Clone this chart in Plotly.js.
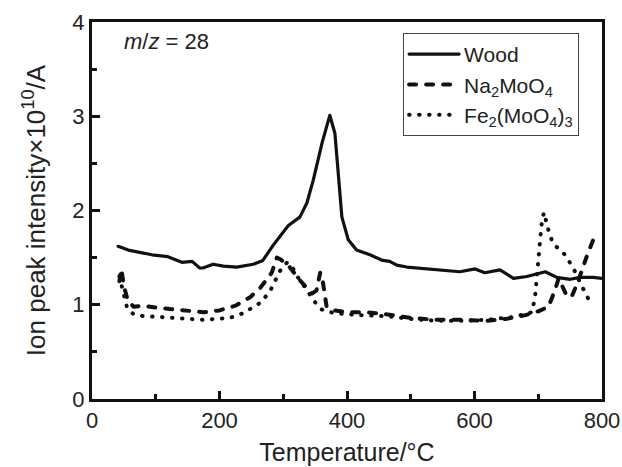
<!DOCTYPE html>
<html>
<head>
<meta charset="utf-8">
<script src="https://cdn.plot.ly/plotly-3.0.1.min.js"></script>
<style>
html,body{margin:0;padding:0;background:#fff;}
#chart{width:622px;height:467px;}
path.js-line{stroke-linecap:round;stroke-linejoin:round;}
</style>
</head>
<body>
<div id="chart"></div>
<script>
// Wood
const woodT = [41,57,94,119,141,157,169,174,190,206,227,253,268,284,308,326,337,347,361,373,381,386,392,402,415,436,456,467,478,494,511,530,555,577,601,616,640,661,682,703,711,729,750,766,786,800];
const woodV = [1.62,1.58,1.53,1.51,1.45,1.46,1.39,1.39,1.43,1.41,1.40,1.43,1.47,1.63,1.84,1.93,2.08,2.32,2.72,3.01,2.82,2.40,1.93,1.69,1.58,1.53,1.47,1.46,1.42,1.40,1.39,1.38,1.37,1.35,1.38,1.34,1.37,1.28,1.30,1.34,1.35,1.29,1.27,1.29,1.29,1.28];
// Na2MoO4
const naT = [43,46,50,56,65,80,100,125,150,175,200,225,248,264,282,290,296,310,326,345,352,358,362,368,380,400,430,460,500,540,580,620,650,680,700,716,726,732,743,752,762,778,790];
const naV = [1.25,1.38,1.20,1.05,0.98,0.99,0.97,0.95,0.93,0.92,0.94,0.99,1.08,1.18,1.34,1.50,1.48,1.40,1.26,1.12,1.15,1.34,1.25,0.98,0.94,0.92,0.92,0.90,0.86,0.84,0.84,0.83,0.85,0.89,0.93,0.98,1.15,1.28,1.12,1.08,1.24,1.55,1.75];
// Fe2(MoO4)3
const feT = [43,48,55,65,80,107,138,174,216,237,264,279,295,306,314,322,337,347,360,380,420,460,500,540,580,620,660,690,695,700,703,706,709,716,723,742,755,766,778,790];
const feV = [1.30,1.15,0.97,0.90,0.88,0.87,0.86,0.84,0.86,0.91,1.02,1.14,1.36,1.45,1.40,1.30,1.16,1.05,0.95,0.91,0.89,0.88,0.85,0.83,0.83,0.84,0.87,0.92,1.08,1.40,1.69,1.90,1.98,1.79,1.65,1.53,1.39,1.23,1.07,1.04];

const names = ['Wood', 'Na<sub>2</sub>MoO<sub>4</sub>', 'Fe<sub>2</sub>(MoO<sub>4</sub>)<sub>3</sub>'];
const xTicks = [0,200,400,600,800];
const yTicks = [0,1,2,3,4];

const traces = [
  {x: woodT, y: woodV, name: names[0], mode: 'lines', line: {color: '#111', width: 3.2}},
  {x: naT, y: naV, name: names[1], mode: 'lines', line: {color: '#111', width: 4, dash: '7px,10px'}},
  {x: feT, y: feV, name: names[2], mode: 'lines', line: {color: '#111', width: 4, dash: '0.5px,9.5px'}}
];

const fam = 'Liberation Sans, Arial, sans-serif';
const axisCommon = {
  showline: true, linewidth: 3, linecolor: '#111', mirror: true,
  ticks: 'inside', ticklen: 8, tickwidth: 3, tickcolor: '#111',
  showgrid: false, zeroline: false,
  tickfont: {family: fam, size: 22, color: '#222'}
};

const layout = {
  width: 622, height: 467,
  margin: {l: 92, r: 20, t: 22, b: 68},
  paper_bgcolor: '#fff', plot_bgcolor: '#fff',
  font: {family: fam, color: '#222', size: 20},
  showlegend: true,
  legend: {
    x: 0.61, y: 0.971, xanchor: 'left', yanchor: 'top',
    bordercolor: '#444', borderwidth: 1, bgcolor: '#fff',
    font: {family: fam, size: 21, color: '#222'},
    tracegroupgap: 0, itemwidth: 50
  },
  xaxis: Object.assign({}, axisCommon, {
    range: [0, 800], tickvals: xTicks, ticktext: xTicks.map(String),
    minor: {ticks: 'inside', ticklen: 5, tickwidth: 3, tickcolor: '#111', dtick: 100, showgrid: false},
    title: {text: 'Temperature/°C', font: {family: fam, size: 25, color: '#222'}, standoff: 12}
  }),
  yaxis: Object.assign({}, axisCommon, {
    range: [0, 4], tickvals: yTicks, ticktext: yTicks.map(String),
    minor: {ticks: 'inside', ticklen: 5, tickwidth: 3, tickcolor: '#111', dtick: 0.5, showgrid: false},
    title: {text: 'Ion peak intensity\u00d710<sup>10</sup>/A', font: {family: fam, size: 26, color: '#222'}, standoff: 20}
  }),
  annotations: [{
    xref: 'paper', yref: 'paper', x: 0.058, y: 0.947, xanchor: 'left', yanchor: 'middle',
    text: '<i>m</i>/<i>z</i> = 28', showarrow: false,
    font: {family: fam, size: 22, color: '#222'}
  }]
};

Plotly.newPlot('chart', traces, layout, {displayModeBar: false, staticPlot: true});
</script>
</body>
</html>
